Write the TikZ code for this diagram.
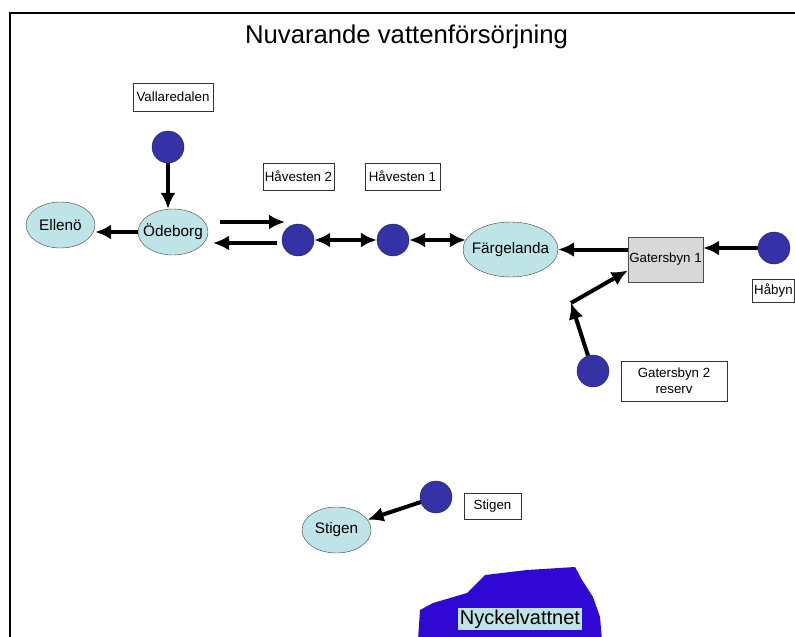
\documentclass[tikz,border=0pt]{standalone}
\usepackage{fontspec}
\setmainfont{Liberation Sans}
\usetikzlibrary{shapes.geometric, arrows.meta}

\definecolor{wellblue}{RGB}{52,50,165}
\definecolor{townfill}{RGB}{190,228,232}
\definecolor{lakeblue}{RGB}{48,8,212}
\definecolor{plantgray}{RGB}{216,216,216}

\begin{document}
\begin{tikzpicture}[x=1pt, y=-1pt,
    well/.style={circle, draw=wellblue!60!black, fill=wellblue, minimum size=32pt, inner sep=0pt},
    town/.style={ellipse, draw=black!75, fill=townfill, inner sep=-6pt, font=\fontsize{15.3}{17}\selectfont},
    tag/.style={draw=black!80, fill=white, inner xsep=2pt, inner ysep=0pt, minimum height=27pt, font=\fontsize{13.3}{16}\selectfont},
    pipe/.style={line width=4pt, >={Latex[length=16pt, width=15pt]}}]

    \useasboundingbox (0,0) rectangle (795,637);
    \draw[line width=2pt] (10,640) -- (10,13) -- (800,13);

    \node[font=\fontsize{25.7}{28}\selectfont, anchor=base] (title) at (406.5,43) {Nuvarande vattenförsörjning};

    \fill[lakeblue] (418,640) -- (420,610) -- (433,603) -- (467,593) -- (485,575) -- (527,570)
        -- (575,567) -- (582,580) -- (593,597) -- (600,617) -- (602,640) -- cycle;
    \node[fill=townfill, inner sep=2pt, font=\fontsize{20}{22}\selectfont] (nyckel) at (520,619) {Nyckelvattnet};

    \node[tag, minimum width=80pt, minimum height=28pt] (vallaredalen) at (173,97) {Vallaredalen};
    \node[well] (vallwell) at (168,147) {};
    \node[town, minimum width=70pt, minimum height=46pt] (odeborg) at (173,232) {Ödeborg};
    \node[town, minimum width=69pt, minimum height=46pt] (elleno) at (60.5,225) {Ellenö};

    \node[well] (hav2) at (298,240) {};
    \node[tag, minimum width=69pt] (hav2tag) at (298.5,176.5) {Håvesten 2};
    \node[well] (hav1) at (393,240) {};
    \node[tag, minimum width=75pt] (hav1tag) at (402.5,176.5) {Håvesten 1};

    \node[town, minimum width=95pt, minimum height=55pt] (fargelanda) at (510.5,249.5) {Färgelanda};
    \node[draw=black!70, fill=plantgray, minimum width=75pt, minimum height=45pt, inner sep=0pt,
        font=\fontsize{13.3}{16}\selectfont] (gat1) at (665.5,259.5) {Gatersbyn 1};
    \node[well] (habyn) at (774,248) {};
    \node[tag, minimum height=23pt, anchor=west] (habyntag) at (752,290.5) {Håbyn};

    \node[well] (gat2) at (593,371) {};
    \node[tag, minimum width=106pt, minimum height=40pt, align=center] (gat2tag) at (674,381) {Gatersbyn 2\\reserv};

    \node[well] (stigwell) at (436,497) {};
    \node[tag, minimum width=57pt, minimum height=26pt] (stigtag) at (492.5,506) {Stigen};
    \node[town, minimum width=69pt, minimum height=46pt] (stigen) at (336.5,530) {Stigen};

    \coordinate (feedA) at (220,222);
    \coordinate (feedB) at (285,222);
    \coordinate (backA) at (277,243);
    \coordinate (backB) at (213,243);
    \coordinate (gbend) at (571,303);

    \draw[pipe,->] (vallwell) -- (vallwell |- odeborg.north);
    \draw[pipe,->] (odeborg.west) -- (odeborg.west -| elleno.east);
    \draw[pipe,->] (feedA) -- (feedB);
    \draw[pipe,->] (backA) -- (backB);
    \draw[pipe,<->] (hav2) -- (hav1);
    \draw[pipe,<->] (hav1.east) -- ([xshift=3pt]hav1.east -| fargelanda.west);
    \draw[pipe,->] (gat1.west |- fargelanda.east) -- (fargelanda.east);
    \draw[pipe,->] (habyn.west) -- (habyn.west -| gat1.east);
    \draw[pipe,->] (gat2) -- (gbend);
    \draw[pipe,->] (gbend) -- ([yshift=-11pt]gat1.west);
    \draw[pipe,->] (stigwell) -- (stigen);

\end{tikzpicture}
\end{document}
